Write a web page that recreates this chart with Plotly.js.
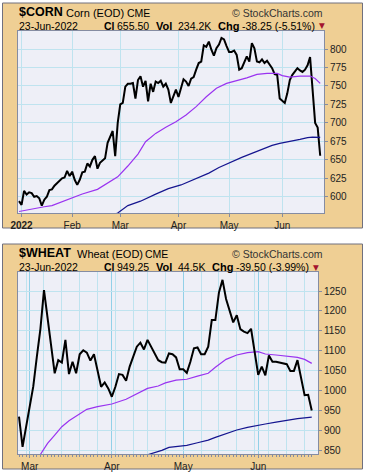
<!DOCTYPE html>
<html><head><meta charset="utf-8">
<script src="https://cdn.plot.ly/plotly-3.0.1.min.js"></script>
<style>html,body{margin:0;padding:0;background:#fff}#c{width:367px;height:472px}</style>
</head><body><div id="c"></div>
<script>
// ---- data ----
const tradeDates = ["2021-12-31",
"2022-01-03","2022-01-04","2022-01-05","2022-01-06","2022-01-07","2022-01-10","2022-01-11","2022-01-12","2022-01-13","2022-01-14",
"2022-01-18","2022-01-19","2022-01-20","2022-01-21","2022-01-24","2022-01-25","2022-01-26","2022-01-27","2022-01-28","2022-01-31",
"2022-02-01","2022-02-02","2022-02-03","2022-02-04","2022-02-07","2022-02-08","2022-02-09","2022-02-10","2022-02-11","2022-02-14",
"2022-02-15","2022-02-16","2022-02-17","2022-02-18","2022-02-22","2022-02-23","2022-02-24","2022-02-25","2022-02-28",
"2022-03-01","2022-03-02","2022-03-03","2022-03-04","2022-03-07","2022-03-08","2022-03-09","2022-03-10","2022-03-11","2022-03-14",
"2022-03-15","2022-03-16","2022-03-17","2022-03-18","2022-03-21","2022-03-22","2022-03-23","2022-03-24","2022-03-25","2022-03-28",
"2022-03-29","2022-03-30","2022-03-31",
"2022-04-01","2022-04-04","2022-04-05","2022-04-06","2022-04-07","2022-04-08","2022-04-11","2022-04-12","2022-04-13","2022-04-14",
"2022-04-18","2022-04-19","2022-04-20","2022-04-21","2022-04-22","2022-04-25","2022-04-26","2022-04-27","2022-04-28","2022-04-29",
"2022-05-02","2022-05-03","2022-05-04","2022-05-05","2022-05-06","2022-05-09","2022-05-10","2022-05-11","2022-05-12","2022-05-13",
"2022-05-16","2022-05-17","2022-05-18","2022-05-19","2022-05-20","2022-05-23","2022-05-24","2022-05-25","2022-05-26","2022-05-27",
"2022-05-31",
"2022-06-01","2022-06-02","2022-06-03","2022-06-06","2022-06-07","2022-06-08","2022-06-09","2022-06-10","2022-06-13","2022-06-14",
"2022-06-15","2022-06-16","2022-06-17","2022-06-21","2022-06-22","2022-06-23"];

const cornClose = [594,589,608,603,606,605,600,601,598,588,
596,600,609,610,615,618,621,625,626,635,
628,634,623,616,623,633,634,645,641,650,
655,638,646,649,652,673,682,689,655,700,
725,727,749,753,753,754,733,758,763,749,
757,729,753,742,756,754,757,749,753,745,
727,735,745,735,749,759,756,750,760,762,
772,781,783,805,803,810,799,791,801,806,
815,813,804,796,796,798,792,772,774,783,
790,783,808,801,783,782,786,781,784,779,
774,766,765,733,730,727,740,758,765,770,
774,771,769,772,778,789,740,700,693.75,655.5];

// moving averages read at these trading-day positions
const corn50Pos = [0,6,10,13,19,21,25,31,35,39,43,47,50,54,58,62,66,70,74,78,82,86,90,94,98,102,104,107,111,115,117,119];
const corn50 = [580,584.5,586.5,588,595.5,599,603.7,610,619,627,641.6,657.8,674.5,685.8,694,701.6,710.6,722,735.4,746.8,753.5,757,761,765.7,767,767,764,762,763.4,763.4,760,753.5];
const corn200Pos = [37,39,43,48,54,59,64,69,75,79,84,88,92,96,100,103,107,111,114,116,119];
const corn200 = [575,578,588,594,603.5,611,616,623.5,632,639.5,647.4,653.3,658.8,664.2,669.6,672.3,674.5,677.7,680,680.8,680.4];

const wheatStart = "2022-02-24";
const wheatClose = [934,858,909,960,1010,1085,1155,1252,1185,1118,
1043,1076,1070,1127,1041,1072,1043,1091,1101,1095,
1075,1091,1053,1009,1020,1005,984,1009,1041,1039,
1024,1060,1085,1110,1120,1103,1127,1110,1092,1076,
1071,1070,1093,1091,1083,1053,1053,1044,1072,1106,
1108,1091,1091,1110,1177,1177,1246,1278,1230,1200,
1171,1189,1154,1148,1144,1155,1094,1039,1060,1038,
1088,1072,1072,1070,1068,1066,1049,1049,1076,1035,
988,988.75,949.25];
const wheat50Pos = [5,6,8,10,12,14,17,19,22,24,26,30,33,36,39,41,44,47,50,53,55,58,61,64,67,69,72,75,78,80,82];
const wheat50 = [825,840,866.7,887.7,908.6,923.8,940.6,952.4,959,963.2,965.7,977.6,990.8,1005,1011,1019,1026,1028,1036,1043,1058,1078,1089,1095,1097.4,1091.5,1089,1086.5,1083,1078,1068];
const wheat200Pos = [36,37,40,42,45,47,50,53,55,58,61,64,67,69,72,75,78,82];
const wheat200 = [838,840.5,849,856.7,860,861.8,868.4,875,881.9,892,900.3,907,913,915.4,920.4,925.5,928.8,933];

const monthNames = ["Jan","Feb","Mar","Apr","May","Jun","Jul","Aug","Sep","Oct","Nov","Dec"];

// ---- derived ----
const wheatDates = tradeDates.slice(tradeDates.indexOf(wheatStart));
const idx = a => a.map((d,i)=>i);
function monthStarts(dates){
  const v=[],t=[];
  dates.forEach((d,i)=>{ if(i>0 && d.slice(5,7)!==dates[i-1].slice(5,7)){ v.push(i); const m=+d.slice(5,7); t.push(m===1?"<b>"+d.slice(0,4)+"</b>":monthNames[m-1]); } });
  return {v,t};
}
function weekStarts(dates){
  const v=[];
  dates.forEach((d,i)=>{ if(i>0){ const a=new Date(d+"T00:00:00Z").getUTCDay(), b=new Date(dates[i-1]+"T00:00:00Z").getUTCDay(); if(a<b) v.push(i);} });
  return v;
}
const cm = monthStarts(tradeDates), wm = monthStarts(wheatDates), ww = weekStarts(wheatDates);

const W=367,H=472, px=x=>x/W, py=y=>1-y/H;
const BORDER='#858ca2', GRID='#bfe3ef', GRIDM='#92d0e8', TAN='#efcf94', PLOTBG='#eeeff7';
const FONT='Liberation Sans, Arial, sans-serif';

const traces = [
 {x:idx(tradeDates), y:cornClose, xaxis:'x', yaxis:'y', mode:'lines', line:{color:'#000',width:2}, hoverinfo:'skip'},
 {x:corn50Pos, y:corn50, xaxis:'x', yaxis:'y', mode:'lines', line:{color:'#9a33f0',width:1.2}, hoverinfo:'skip'},
 {x:corn200Pos, y:corn200, xaxis:'x', yaxis:'y', mode:'lines', line:{color:'#15158f',width:1.2}, hoverinfo:'skip'},
 {x:wheat50Pos, y:wheat50, xaxis:'x2', yaxis:'y2', mode:'lines', line:{color:'#9a33f0',width:1.2}, hoverinfo:'skip'},
 {x:wheat200Pos, y:wheat200, xaxis:'x2', yaxis:'y2', mode:'lines', line:{color:'#15158f',width:1.2}, hoverinfo:'skip'},
 {x:idx(wheatDates), y:wheatClose, xaxis:'x2', yaxis:'y2', mode:'lines', line:{color:'#000',width:2}, hoverinfo:'skip'},
 {x:[null], y:[null], xaxis:'x3', yaxis:'y2', mode:'lines', hoverinfo:'skip'}
];

const axBase = {showline:true, mirror:true, linecolor:BORDER, linewidth:1, zeroline:false, ticks:'outside', tickcolor:BORDER, ticklen:3, tickfont:{family:FONT,size:10,color:'#222'}};

function txt(x,y,text,size,opts){ return Object.assign({xref:'paper',yref:'paper',x:px(x),y:py(y),xanchor:'left',yanchor:'middle',text:text,showarrow:false,borderpad:0,font:{family:FONT,size:size,color:'#000'}},opts||{}); }
function header(y0, sym, name, nameX, cmeX, cl, vol, chg, chgX, triX){
  return [
   txt(17.5,y0+9.5,'<b>'+sym+'</b>',12.5),
   txt(nameX,y0+10,name,11),
   txt(cmeX,y0+10,'CME',10.5),
   txt(324,y0+10,'© StockCharts.com',10.5,{xanchor:'right',font:{family:FONT,size:10.5,color:'#333'}}),
   txt(18,y0+22.5,'23-Jun-2022',10.5),
   txt(103,y0+22.5,'<b>Cl</b>',10.5),
   txt(116,y0+22.5,cl,10.5),
   txt(155,y0+22.5,'<b>Vol</b>',11),
   txt(176.5,y0+22.5,vol,10.5),
   txt(chgX,y0+22.5,'<b>Chg</b>',11),
   txt(chgX+24,y0+22.5,chg,10.5),
   txt(triX,y0+23,'▼',7.5,{font:{family:'DejaVu Sans',size:7.5,color:'#a3142e'}})
  ];
}

const layout = {
 width:W, height:H, margin:{l:0,r:0,t:0,b:0}, paper_bgcolor:'#fff', plot_bgcolor:'rgba(0,0,0,0)', showlegend:false,
 font:{family:FONT,size:10,color:'#222'},
 xaxis: Object.assign({}, axBase, {domain:[px(18),px(324)], anchor:'y', range:[-0.4,120.5], tickmode:'array', tickvals:cm.v, ticktext:cm.t, showgrid:true, gridcolor:GRID, gridwidth:1}),
 yaxis: Object.assign({}, axBase, {domain:[py(213),py(31)], anchor:'x', side:'right', range:[578,824.4], tick0:0, dtick:25, showgrid:true, gridcolor:GRID}),
 xaxis2: Object.assign({}, axBase, {domain:[px(18),px(318)], anchor:'y2', range:[-0.28,83.75], tickmode:'array', tickvals:wm.v, ticktext:wm.t, showgrid:true, gridcolor:GRIDM, minor:{tickmode:'array', tickvals:ww, showgrid:true, gridcolor:GRID, ticks:''}}),
 yaxis2: Object.assign({}, axBase, {domain:[py(454),py(272)], anchor:'x2', side:'right', range:[840,1297.8], tick0:0, dtick:50, showgrid:true, gridcolor:GRID}),
 xaxis3: {overlaying:'x2', anchor:'y2', domain:[px(18),px(318)], range:[-0.28,83.75], tickmode:'array', tickvals:idx(wheatDates), ticks:'outside', ticklen:2, tickcolor:BORDER, showticklabels:false, showgrid:false, zeroline:false, showline:false},
 shapes: [
  {type:'rect',xref:'paper',yref:'paper',x0:px(2.5),x1:px(362.5),y0:py(228),y1:py(3),fillcolor:TAN,line:{color:'#70707e',width:1},layer:'below'},
  {type:'rect',xref:'paper',yref:'paper',x0:px(2.5),x1:px(362.5),y0:py(469),y1:py(244),fillcolor:TAN,line:{color:'#70707e',width:1},layer:'below'},
  {type:'rect',xref:'paper',yref:'paper',x0:px(18),x1:px(324),y0:py(213),y1:py(31),fillcolor:PLOTBG,line:{width:0},layer:'below'},
  {type:'rect',xref:'paper',yref:'paper',x0:px(18),x1:px(318),y0:py(454),y1:py(272),fillcolor:PLOTBG,line:{width:0},layer:'below'}
 ],
 annotations: [].concat(
   header(3,'$CORN','Corn (EOD)',65,126,'655.50','234.2K','-38.25 (-5.51%)',217,318),
   header(244,'$WHEAT','Wheat (EOD)',75.5,144,'949.25','44.5K','-39.50 (-3.99%)',211,312)
 )
};
Plotly.newPlot('c', traces, layout, {staticPlot:true, displayModeBar:false});
</script></body></html>
